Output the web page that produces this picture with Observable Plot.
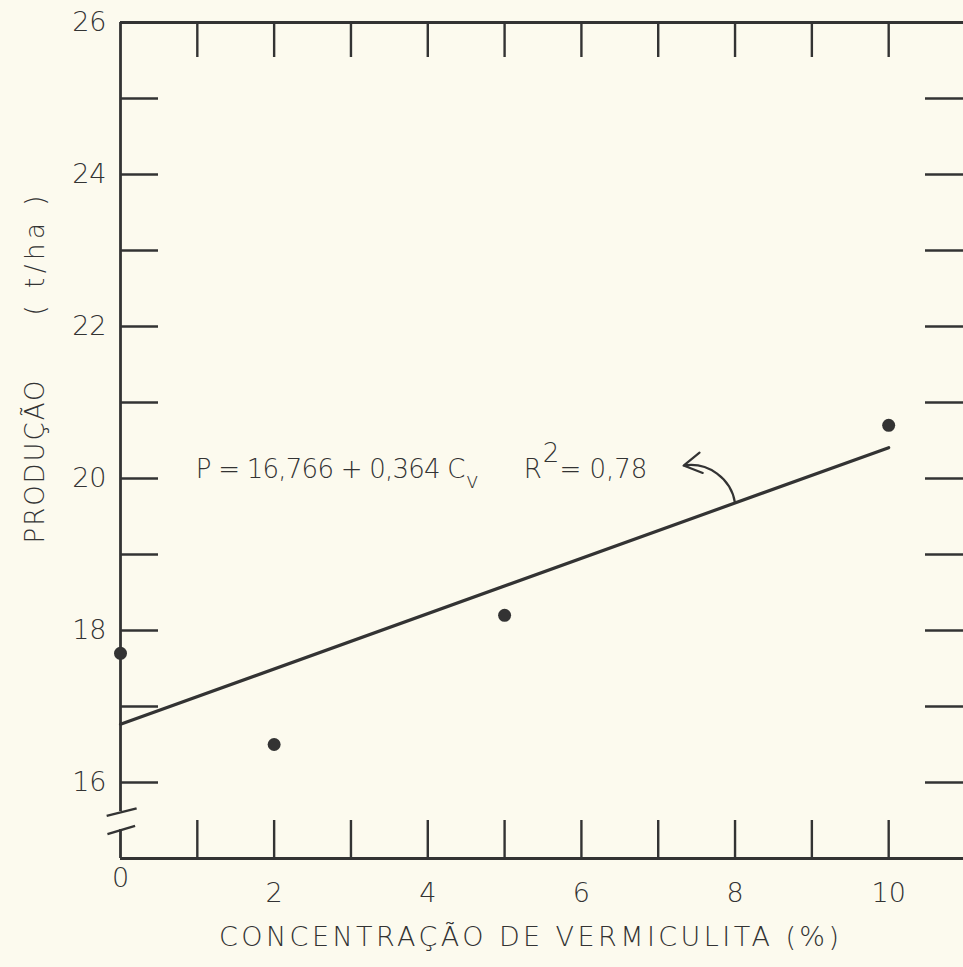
<!DOCTYPE html>
<html><head><meta charset="utf-8">
<script src="https://cdn.jsdelivr.net/npm/d3@7"></script>
<script src="https://cdn.jsdelivr.net/npm/@observablehq/plot@0.6"></script>
<style>
html,body{margin:0;padding:0;background:#fcfaee;overflow:hidden;}
#chart svg{display:block;}
</style></head><body><div id="chart"></div>
<script>
// ---- data ----
const concentration = [0, 2, 5, 10];          // % vermiculite
const production = [17.7, 16.5, 18.2, 20.7];   // t/ha
const intercept = 16.766;
const slope = 0.364;
const rSquared = 0.78;
const fitRange = [0, 10];
const xTickValues = [1, 2, 3, 4, 5, 6, 7, 8, 9, 10];
const xLabelValues = [2, 4, 6, 8, 10];
const xOriginLabel = [0];
const yTickValues = [16, 17, 18, 19, 20, 21, 22, 23, 24, 25];
const yLabelValues = [16, 18, 20, 22, 24, 26];
const xTitle = "CONCENTRAÇÃO DE VERMICULITA (%)";
const yTitleMain = "PRODUÇÃO";
const yTitleUnit = "( t/ha )";

const comma = v => String(v).replace(".", ",");
const equationText = `P = ${comma(intercept)} + ${comma(slope)} C`;
const equationSub = "v";
const r2Base = "R";
const r2Sup = "2";
const r2Value = `= ${comma(rSquared)}`;

// annotation anchors (data coordinates)
const equationAnchor = {x: 0.98, y: 20.12};
const r2Anchor = {x: 5.25, y: 20.12};
const arrowSpec = {x1: 8, y1: intercept + slope * 8, x2: 7.33, y2: 20.17};
const axisBreak = [
  {x1: -0.18, y1: 15.56, x2: 0.21, y2: 15.66},
  {x1: -0.17, y1: 15.32, x2: 0.19, y2: 15.43}
];
const breakGap = [15.38, 15.62];

// ---- derived tables ----
const points = concentration.map((c, i) => ({c, p: production[i]}));
const fit = fitRange.map(c => ({c, p: intercept + slope * c}));

// ---- layout ----
const W = 963, H = 967;
const mL = 120, mT = 22, mR = 0, mB = 109;
const frameW = W - mL - mR, frameH = H - mT - mB;
const ink = "#333";

const chart = Plot.plot({
  width: W, height: H,
  marginLeft: mL, marginTop: mT, marginRight: mR, marginBottom: mB,
  style: {background: "#fcfaee", fontFamily: "DejaVu Sans", fontSize: "26px", fontWeight: 300, color: ink, overflow: "hidden"},
  x: {domain: [0, 11], range: [120, 965], axis: null},
  y: {domain: [15, 26], range: [858, 22], axis: null},
  marks: [
    // frame
    Plot.ruleY([26], {stroke: ink, strokeWidth: 2.8}),
    Plot.ruleY([15], {stroke: ink, strokeWidth: 2.8}),
    Plot.ruleX([0], {y1: 26, y2: breakGap[1], stroke: ink, strokeWidth: 2.8}),
    Plot.ruleX([0], {y1: breakGap[0], y2: 15, stroke: ink, strokeWidth: 2.8}),
    Plot.link(axisBreak, {x1: "x1", y1: "y1", x2: "x2", y2: "y2", stroke: ink, strokeWidth: 2.4}),
    // inward ticks
    Plot.ruleX(xTickValues, {x: d => d, insetBottom: frameH - 35, stroke: ink, strokeWidth: 2.4}),
    Plot.ruleX(xTickValues, {x: d => d, insetTop: frameH - 38, stroke: ink, strokeWidth: 2.4}),
    Plot.ruleY(yTickValues, {y: d => d, insetRight: frameW - 38, stroke: ink, strokeWidth: 2.4}),
    Plot.ruleY(yTickValues, {y: d => d, insetLeft: frameW - 38, stroke: ink, strokeWidth: 2.4}),
    // tick labels
    Plot.text(xLabelValues, {x: d => d, y: 15, dy: 35, text: d => String(d), fill: ink, fontSize: 27}),
    Plot.text(xOriginLabel, {x: d => d, y: 15, dy: 20, text: d => String(d), fill: ink, fontSize: 27}),
    Plot.text(yLabelValues, {x: 0, y: d => d, dx: -14, textAnchor: "end", text: d => String(d), fill: ink, fontSize: 27}),
    // axis titles
    Plot.text([xTitle], {frameAnchor: "bottom", dx: -13, dy: 87, fill: ink, fontSize: 27}),
    Plot.text([yTitleMain], {frameAnchor: "left", dx: -85, dy: 103, rotate: -90, fill: ink, fontSize: 26}),
    Plot.text([yTitleUnit], {frameAnchor: "left", dx: -85, dy: -125, rotate: -90, fill: ink, fontSize: 26}),
    // regression & data
    Plot.line(fit, {x: "c", y: "p", stroke: ink, strokeWidth: 3.2}),
    Plot.dot(points, {x: "c", y: "p", r: 6.5, fill: ink}),
    // annotation
    Plot.text([equationText], {x: equationAnchor.x, y: equationAnchor.y, textAnchor: "start", fill: ink, fontSize: 26}),
    Plot.text([r2Base], {x: r2Anchor.x, y: r2Anchor.y, textAnchor: "start", fill: ink, fontSize: 26}),
    Plot.arrow([arrowSpec], {x1: "x1", y1: "y1", x2: "x2", y2: "y2", bend: -45, stroke: ink, strokeWidth: 2.2, headLength: 14})
  ]
});

const sel = t => d3.select(chart).selectAll("text").filter(function () { return this.textContent === t; });
sel(xTitle).attr("textLength", 620).attr("lengthAdjust", "spacing");
sel(yTitleMain).attr("textLength", 163).attr("lengthAdjust", "spacing");
sel(yTitleUnit).attr("textLength", 120).attr("lengthAdjust", "spacing");
const eqEl = sel(equationText);
eqEl.append("tspan").attr("dy", 10).attr("dx", 1).attr("font-size", 22).text(equationSub);
eqEl.attr("textLength", 283).attr("lengthAdjust", "spacing");
const r2El = sel(r2Base);
r2El.append("tspan").attr("dy", -16).attr("dx", 1).attr("font-size", 26).text(r2Sup);
r2El.append("tspan").attr("dy", 16).attr("dx", 0).text(r2Value);

document.getElementById("chart").appendChild(chart);
</script></body></html>
